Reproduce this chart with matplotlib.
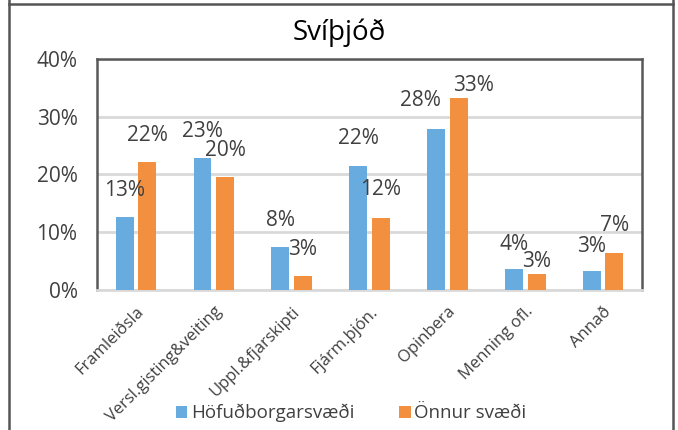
import numpy as np
import matplotlib.pyplot as plt
from matplotlib.lines import Line2D

# Svíþjóð - hlutfall starfa eftir atvinnugreinum
categories = ['Framleiðsla', 'Versl.gisting&veiting', 'Uppl.&fjarskipti', 'Fjárm.þjón.',
              'Opinbera', 'Menning ofl.', 'Annað']
hofud = [12.7, 22.8, 7.4, 21.4, 27.8, 3.6, 3.2]      # Höfuðborgarsvæði
onnur = [22.2, 19.6, 2.4, 12.4, 33.2, 2.7, 6.4]      # Önnur svæði
hofud_labels = ['13%', '23%', '8%', '22%', '28%', '4%', '3%']
onnur_labels = ['22%', '20%', '3%', '12%', '33%', '3%', '7%']

plt.rcParams['font.family'] = ['Open Sans', 'DejaVu Sans']
txt = '#404040'
blue = '#68ABDF'
orange = '#F2903F'

fig = plt.figure(figsize=(6.78, 4.30), dpi=100)
ax = fig.add_axes([0.143, 0.326, 0.804, 0.537])

x = np.arange(len(categories))
w = 0.23
b1 = ax.bar(x - 0.145, hofud, w, color=blue, label='Höfuðborgarsvæði', zorder=3)
b2 = ax.bar(x + 0.145, onnur, w, color=orange, label='Önnur svæði', zorder=3)

# data labels: offset from bar top (points), Excel nudged a few sideways
dx1 = [0, 0, 0, 0, -11, 0, 0]
dy1 = [19, 19, 19, 20, 21, 18, 18]
dx2 = [0, 0, 0, 0, 11, 0, 0]
dy2 = [19, 19, 19, 21, 9, 9, 20]
for bars, labs, dxs, dys in [(b1, hofud_labels, dx1, dy1), (b2, onnur_labels, dx2, dy2)]:
    for r, lab, dx, dy in zip(bars, labs, dxs, dys):
        ax.annotate(lab, (r.get_x() + r.get_width() / 2, r.get_height()),
                    xytext=(dx, dy), textcoords='offset points',
                    ha='center', va='center', fontsize=15, color=txt, zorder=4)

ax.set_ylim(0, 40)
ax.set_xlim(-0.5, len(categories) - 0.5)
ax.set_yticks([0, 10, 20, 30, 40])
ax.set_yticklabels(['0%', '10%', '20%', '30%', '40%'])
ax.tick_params(axis='y', length=0, pad=14, labelsize=15, labelcolor=txt)
ax.set_xticks(x)
ax.set_xticklabels(categories, rotation=45, ha='right', va='top',
                   rotation_mode='anchor', fontsize=12, color=txt)
ax.tick_params(axis='x', length=0, pad=10)
ax.grid(axis='y', color='#d9d9d9', linewidth=2, zorder=0)

for s in ['left', 'top', 'right']:
    ax.spines[s].set_color('#595959')
    ax.spines[s].set_linewidth(1.8)
ax.spines['bottom'].set_color('#d9d9d9')
ax.spines['bottom'].set_linewidth(2)

fig.text(0.501, 1 - 33 / 430, 'Svíþjóð', ha='center', va='center', fontsize=20, color='black')

fig.legend(loc='center', bbox_to_anchor=(0.518, 1 - 413 / 430), ncol=2, frameon=False,
           fontsize=13.5, handlelength=0.6, handleheight=0.6, handletextpad=0.2,
           columnspacing=2.4, labelcolor=txt)

# outer frame of the screenshot
for xs, ys in [([9 / 678, 9 / 678], [0, 1]), ([673 / 678, 673 / 678], [0, 1]),
               ([9 / 678, 673 / 678], [1 - 4 / 430, 1 - 4 / 430])]:
    fig.add_artist(Line2D(xs, ys, color='#555555', linewidth=1.8))

fig.savefig('out.png', dpi=100)
